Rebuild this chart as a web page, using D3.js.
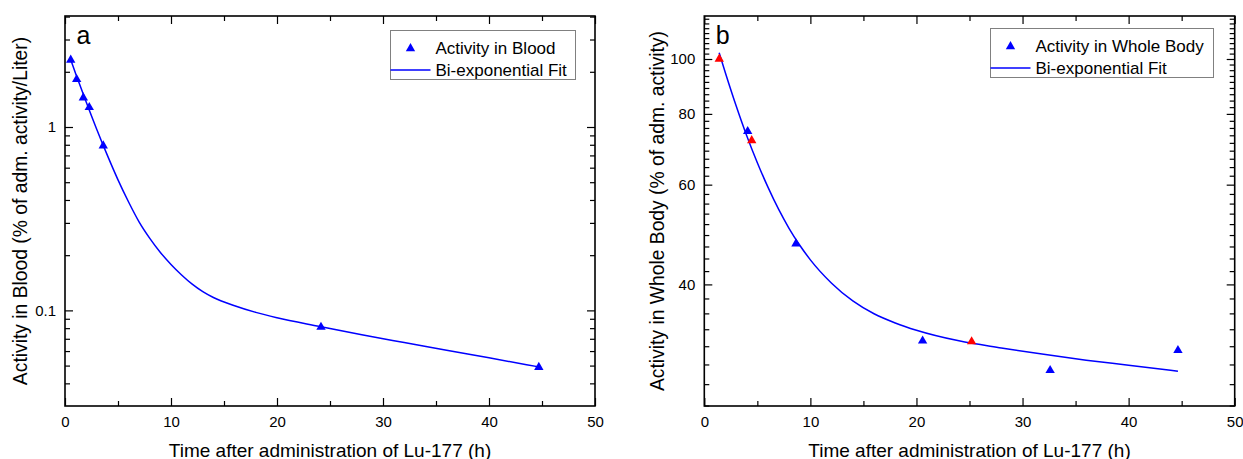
<!DOCTYPE html>
<html><head><meta charset="utf-8">
<script src="https://cdn.jsdelivr.net/npm/d3@7"></script>
<style>
body{margin:0;background:#fff;}
svg{display:block;font-family:"Liberation Sans",Arial,sans-serif;}
</style></head>
<body><svg id="c" width="1243" height="459"></svg>
<script>
// ---------- Data ----------
const xTicks = [0, 10, 20, 30, 40, 50];
const xLabel = "Time after administration of Lu-177 (h)";

// Panel a: blood
const bloodTime  = [0.54, 1.1, 1.73, 2.29, 3.61, 24.15, 44.7];
const bloodValue = [2.32, 1.82, 1.445, 1.28, 0.79, 0.081, 0.049];
const bloodFitTime  = [0.5, 1, 2, 3, 4, 5, 6, 7, 8, 9, 10, 11, 12, 13, 14, 16, 18, 20, 24, 28, 32, 36, 40, 44.7];
const bloodFitValue = [2.36, 1.96, 1.37, 0.97, 0.70, 0.515, 0.39, 0.303, 0.247, 0.207, 0.178, 0.156, 0.139, 0.1265, 0.1175, 0.106, 0.0975, 0.0912, 0.0818, 0.0736, 0.0668, 0.0607, 0.0551, 0.0492];
const bloodYTicks = [0.1, 1];
const bloodYLabel = "Activity in Blood (% of adm. activity/Liter)";
const bloodLegend = ["Activity in Blood", "Bi-exponential Fit"];

// Panel b: whole body
const bodyBlueTime  = [4.09, 8.64, 20.58, 32.6, 44.65];
const bodyBlueValue = [74.5, 47.2, 31.8, 28.2, 30.6];
const bodyRedTime   = [1.41, 4.47, 25.2];
const bodyRedValue  = [100, 71.8, 31.7];
const bodyFitTime  = [1.4, 2, 3, 4, 5, 6, 7, 8, 9, 10, 12, 14, 16, 18, 20, 24, 28, 32, 36, 40, 44.65];
const bodyFitValue = [102.6, 94.4, 82.7, 73.2, 65.6, 59.4, 54.3, 50.2, 46.9, 44.2, 40.2, 37.4, 35.5, 34.2, 33.2, 31.8, 30.9, 30.1, 29.4, 28.8, 28.1];
const bodyYTicks = [40, 60, 80, 100];
const bodyYLabel = "Activity in Whole Body (% of adm. activity)";
const bodyLegend = ["Activity in Whole Body", "Bi-exponential Fit"];

// ---------- Drawing ----------
const svg = d3.select("#c");
const BLUE = "#0000ff", RED = "#ff0000";
const tri = d3.symbol().type(d3.symbolTriangle).size(38);

function panel(o) {
  const g = svg.append("g");
  const x = d3.scaleLinear().domain([0, 50]).range([o.left, o.right]);
  const y = d3.scaleLog().domain(o.yDomain).range([o.bottom, o.top]);
  const xMinor = d3.range(5, 50, 10);

  g.append("g").attr("transform", `translate(0,${o.bottom})`)
    .call(d3.axisBottom(x).tickValues(xTicks).tickSize(-8).tickPadding(10.5).tickFormat(d3.format("d")));
  g.append("g").attr("transform", `translate(0,${o.bottom})`)
    .call(d3.axisBottom(x).tickValues(xMinor).tickSize(-5).tickFormat(""));
  g.append("g").attr("transform", `translate(0,${o.top})`)
    .call(d3.axisTop(x).tickValues(xTicks).tickSize(-8).tickFormat(""));
  g.append("g").attr("transform", `translate(0,${o.top})`)
    .call(d3.axisTop(x).tickValues(xMinor).tickSize(-5).tickFormat(""));

  g.append("g").attr("transform", `translate(${o.left},0)`)
    .call(d3.axisLeft(y).tickValues(o.yTicks).tickSize(-8).tickPadding(9).tickFormat(d => String(d)));
  g.append("g").attr("transform", `translate(${o.left},0)`)
    .call(d3.axisLeft(y).tickValues(o.yMinor).tickSize(-5).tickFormat(""));
  g.append("g").attr("transform", `translate(${o.right},0)`)
    .call(d3.axisRight(y).tickValues(o.yTicks).tickSize(-8).tickFormat(""));
  g.append("g").attr("transform", `translate(${o.right},0)`)
    .call(d3.axisRight(y).tickValues(o.yMinor).tickSize(-5).tickFormat(""));

  g.selectAll(".domain").remove();
  g.selectAll(".tick line").attr("stroke", "#000").attr("stroke-width", 1.2);
  g.selectAll(".tick text").attr("font-size", 15).attr("fill", "#000")
    .attr("font-family", '"Liberation Sans",Arial,sans-serif');

  g.append("rect").attr("x", o.left).attr("y", o.top)
    .attr("width", o.right - o.left).attr("height", o.bottom - o.top)
    .attr("fill", "none").attr("stroke", "#000").attr("stroke-width", 1.6);

  const line = d3.line().x(d => x(d[0])).y(d => y(d[1])).curve(d3.curveMonotoneX);
  g.append("path").datum(o.fitT.map((t, i) => [t, o.fitV[i]]))
    .attr("d", line).attr("fill", "none").attr("stroke", BLUE).attr("stroke-width", 1.5);

  o.series.forEach(s => {
    g.selectAll(null).data(s.t.map((t, i) => [t, s.v[i]])).enter().append("path")
      .attr("d", tri).attr("fill", s.color)
      .attr("transform", d => `translate(${x(d[0])},${y(d[1])})`);
  });

  g.append("text").attr("x", o.left + 11.5).attr("y", 43.5).attr("font-size", 25).text(o.letter);

  g.append("text").attr("x", (o.left + o.right) / 2).attr("y", 456.5)
    .attr("text-anchor", "middle").attr("font-size", 19).text(xLabel);
  g.append("text").attr("transform", `translate(${o.yTitleX},${(o.top + o.bottom) / 2}) rotate(-90)`)
    .attr("text-anchor", "middle").attr("font-size", 19.3).text(o.yLabel);

  const L = o.legend;
  g.append("rect").attr("x", L.x).attr("y", L.y).attr("width", L.w).attr("height", L.h)
    .attr("fill", "#fff").attr("stroke", "#808080").attr("stroke-width", 1);
  g.append("path").attr("d", tri).attr("fill", BLUE)
    .attr("transform", `translate(${L.x + 20},${L.y + 18})`);
  g.append("line").attr("x1", L.x).attr("x2", L.x + 40)
    .attr("y1", L.y + 39.5).attr("y2", L.y + 39.5).attr("stroke", BLUE).attr("stroke-width", 1.3);
  g.append("text").attr("x", L.x + 45).attr("y", L.y + 23.8).attr("font-size", 17).text(o.legendText[0]);
  g.append("text").attr("x", L.x + 45).attr("y", L.y + 45.5).attr("font-size", 17).text(o.legendText[1]);
}

const bloodMinor = [0.04, 0.05, 0.06, 0.07, 0.08, 0.09, 0.2, 0.3, 0.4, 0.5, 0.6, 0.7, 0.8, 0.9, 2, 3, 4];
const bodyMinor = d3.range(0, 46).map(k => 20 + k * 20 / 9)
  .filter(v => v > 24.3 && v < 119.3 && Math.abs(v / 20 - Math.round(v / 20)) > 1e-6);

panel({
  left: 65, right: 595, top: 16, bottom: 406, yDomain: [0.0301, 4.03],
  yTicks: bloodYTicks, yMinor: bloodMinor,
  fitT: bloodFitTime, fitV: bloodFitValue,
  series: [{ t: bloodTime, v: bloodValue, color: BLUE }],
  letter: "a", yLabel: bloodYLabel, yTitleX: 27,
  legend: { x: 390.5, y: 30.5, w: 185, h: 49 }, legendText: bloodLegend
});

panel({
  left: 704.3, right: 1234.7, top: 16, bottom: 406, yDomain: [24.4, 119.1],
  yTicks: bodyYTicks, yMinor: bodyMinor,
  fitT: bodyFitTime, fitV: bodyFitValue,
  series: [{ t: bodyBlueTime, v: bodyBlueValue, color: BLUE }, { t: bodyRedTime, v: bodyRedValue, color: RED }],
  letter: "b", yLabel: bodyYLabel, yTitleX: 664,
  legend: { x: 990.5, y: 28.5, w: 223, h: 49 }, legendText: bodyLegend
});
</script></body></html>
